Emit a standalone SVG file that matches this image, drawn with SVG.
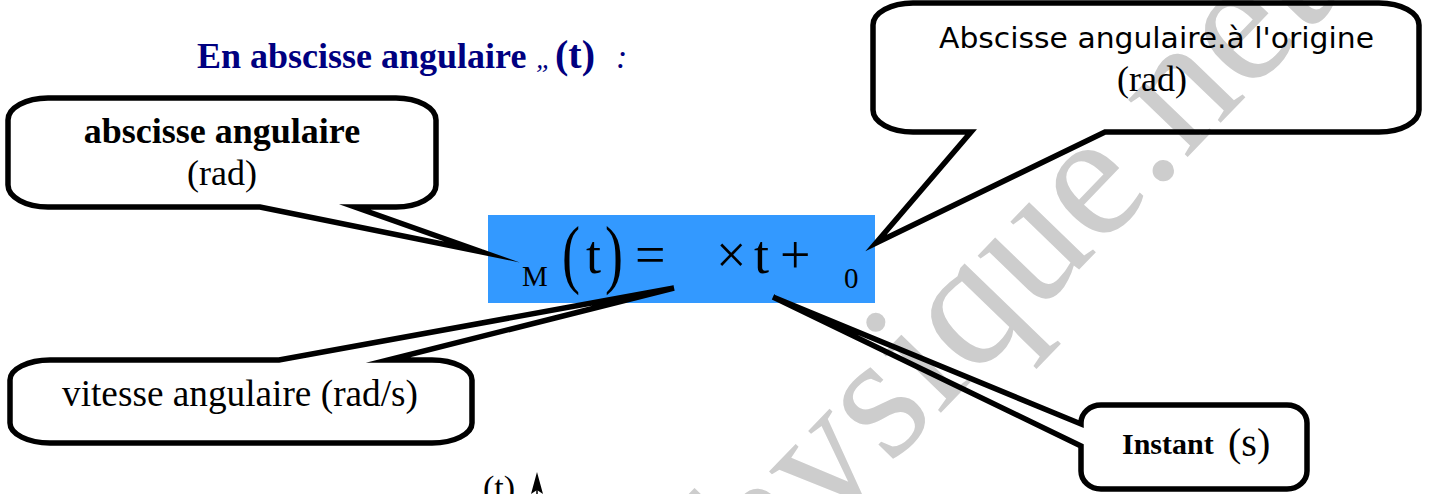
<svg xmlns="http://www.w3.org/2000/svg" width="1432" height="494" viewBox="0 0 1432 494">
<style>
.bub{fill:none;stroke:#000;stroke-width:5.5;stroke-linejoin:miter;stroke-miterlimit:20}
.ser{font-family:"Liberation Serif","Times New Roman",serif;fill:#000}
.b{font-weight:bold}
.t{fill:#000080}
.wm{font-family:"Liberation Serif",serif;font-size:180px;fill:#cdcdcd}
</style>
<rect x="0" y="0" width="1432" height="494" fill="#fff"/>
<g id="watermark">
<text class="wm" transform="translate(702,660) rotate(-46)">physique.net</text>
</g>
<g id="title">
<text class="ser b t" x="197" y="68" font-size="36">En abscisse angulaire</text>
<text class="ser t" x="536" y="68" font-size="28" font-style="italic">„</text>
<text class="ser b t" x="555" y="68" font-size="40">(t)</text>
<text class="ser t" x="616" y="68" font-size="34" font-style="italic">:</text>
</g>
<g id="equation">
<rect x="488" y="215" width="387" height="88" fill="#3399ff"/>
<text class="ser" x="522" y="286" font-size="29">M</text>
<text class="ser" font-size="54" transform="translate(562,279) scale(1,1.39)">(</text>
<text class="ser" x="586" y="273" font-size="54">t</text>
<text class="ser" font-size="54" transform="translate(605,279) scale(1,1.39)">)</text>
<text class="ser" x="635" y="273" font-size="54">=</text>
<text class="ser" x="716" y="273" font-size="54">×</text>
<text class="ser" x="754" y="273" font-size="54">t</text>
<text class="ser" x="780" y="273" font-size="54">+</text>
<text class="ser" x="844" y="288" font-size="29">0</text>
</g>
<g id="bubble-abscisse">
<path class="bub" d="M48,98 H396 A40 22 0 0 1 436,120 V185 A40 22 0 0 1 396,207 H355 L482,252 L260,207 H48 A40 22 0 0 1 8,185 V120 A40 22 0 0 1 48,98 Z"/>
<text class="ser b" x="222" y="143" font-size="36" text-anchor="middle">abscisse angulaire</text>
<text class="ser" x="222" y="185" font-size="36" text-anchor="middle">(rad)</text>
</g>
<g id="bubble-origine">
<path class="bub" d="M913,3 H1379 A40 22 0 0 1 1419,25 V110 A40 22 0 0 1 1379,132 H1105 L876,243 L971,132 H913 A40 22 0 0 1 873,110 V25 A40 22 0 0 1 913,3 Z"/>
<text x="939" y="48" font-size="28" textLength="435" lengthAdjust="spacingAndGlyphs" style="font-family:'DejaVu Sans','Liberation Sans',sans-serif;fill:#000">Abscisse angulaire.à l'origine</text>
<text class="ser" x="1152" y="91" font-size="36" text-anchor="middle">(rad)</text>
</g>
<g id="bubble-vitesse">
<path class="bub" d="M50,360 H279 L674,288 L388,360 H432 A40 20 0 0 1 472,380 V423 A40 20 0 0 1 432,443 H50 A40 20 0 0 1 10,423 V380 A40 20 0 0 1 50,360 Z"/>
<text class="ser" x="240" y="406" font-size="37" text-anchor="middle" textLength="356" lengthAdjust="spacingAndGlyphs">vitesse angulaire (rad/s)</text>
</g>
<g id="bubble-instant">
<path class="bub" d="M1101,405 H1287 A20 18 0 0 1 1307,423 V471 A20 18 0 0 1 1287,489 H1101 A20 18 0 0 1 1081,471 V446 L773,297 L1081,424 V423 A20 18 0 0 1 1101,405 Z"/>
<text class="ser b" x="1122" y="454" font-size="30">Instant</text>
<text class="ser" x="1228" y="456" font-size="40">(s)</text>
</g>
<g id="connectors">
<text class="ser" x="483" y="499" font-size="34">(t)</text>
<line x1="537" y1="485" x2="537" y2="494" stroke="#000" stroke-width="1.5"/>
<polygon points="537,472 531,494 537,490 543,494" fill="#000"/>
</g>
</svg>
